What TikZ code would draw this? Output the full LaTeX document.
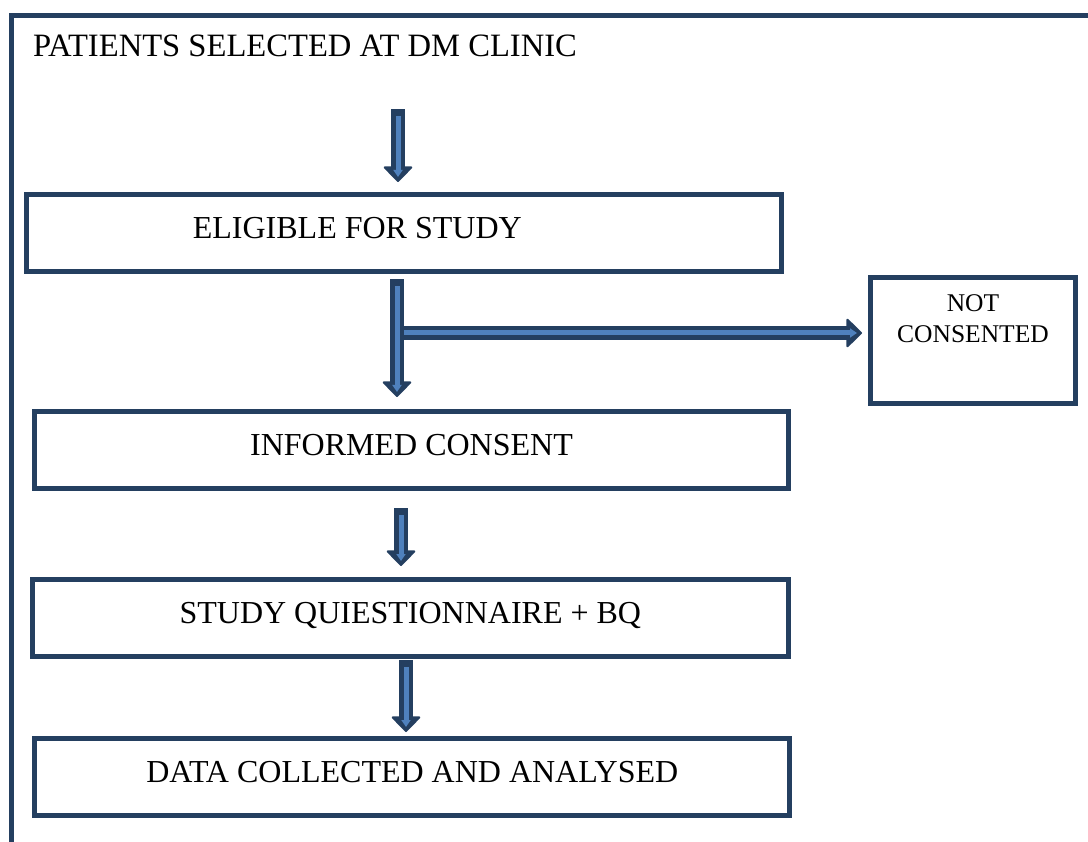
\documentclass[tikz,border=0pt]{standalone}
\usepackage{fontspec}
\setmainfont{Liberation Serif}
\usepackage{tikz}
\usetikzlibrary{arrows.meta,positioning,calc}
\definecolor{navyLine}{HTML}{243F60}
\definecolor{arrowBlue}{HTML}{4F81BD}
\tikzset{
  flowSheet/.style={
    x=1pt, y=-1pt,
    every node/.style={inner sep=0pt, outer sep=0pt},
    line join=miter,
  },
  frameLine/.style={draw=navyLine, line width=5pt},
  stageBox/.style={
    draw=navyLine, line width=5pt, fill=white, anchor=north west,
    align=center, font=\fontsize{32}{38}\selectfont,
    text height=22pt, text depth=11pt,
  },
  sideBox/.style={
    stageBox, font=\fontsize{25.5}{31}\selectfont,
    text height=48pt, text depth=44pt,
  },
  headText/.style={font=\fontsize{32.6}{38}\selectfont, anchor=west},
  blockArrow/.style={
    draw=arrowBlue, line width=5pt, line cap=butt,
    -{Triangle[length=7pt, width=9pt, sep=5pt]},
    preaction={draw=navyLine, line width=14pt, line cap=rect,
      -{Triangle[length=16pt, width=31pt, line width=2pt, round]}},
  },
}
\begin{document}
\begin{tikzpicture}[flowSheet]
\useasboundingbox (0,0) rectangle (1088,842);
\clip (0,0) rectangle (1088,842);

% ============================================================
% Outer frame, only the top and left sides show
% ============================================================
\draw[frameLine] (11,860) -- (11,15.5) -- (1100,15.5);

\node[headText] (title) at (33,46) {PATIENTS SELECTED AT DM CLINIC};

% ============================================================
% Stages of the study
% ============================================================
\node[stageBox, minimum width=755pt, minimum height=77pt]
  (elig) at (26.8,194.2) {\hspace*{-94pt}ELIGIBLE FOR STUDY};
\node[stageBox, minimum width=753.4pt, minimum height=76.5pt]
  (consent) at (34.8,411.5) {INFORMED CONSENT};
\node[stageBox, minimum width=755.7pt, minimum height=76.5pt]
  (quest) at (32.5,579.8) {STUDY QUIESTIONNAIRE + BQ};
\node[stageBox, minimum width=755pt, minimum height=77pt]
  (data) at (34.8,738.5) {DATA COLLECTED AND ANALYSED};

\node[sideBox, minimum width=205pt, minimum height=126pt]
  (refused) at (870.5,277.5) {NOT\\CONSENTED};

% ============================================================
% Block arrows
% ============================================================
\coordinate (topStart) at (398,116);
\coordinate (branch) at (397,333);

\draw[blockArrow, shorten >=12.2pt] (topStart) -- (topStart |- elig.north);

% side branch first, the down arrow covers its start
\draw[blockArrow, shorten >=8.5pt] (branch) -- (branch -| refused.west);
\draw[blockArrow, shorten <=14.8pt, shorten >=14.5pt]
  (397,0 |- elig.south) -- (397,0 |- consent.north);
\draw[blockArrow, shorten <=27pt, shorten >=13.8pt]
  (401,0 |- consent.south) -- (401,0 |- quest.north);
\draw[blockArrow, shorten <=10.7pt, shorten >=6.5pt]
  (406,0 |- quest.south) -- (406,0 |- data.north);

\end{tikzpicture}
\end{document}
